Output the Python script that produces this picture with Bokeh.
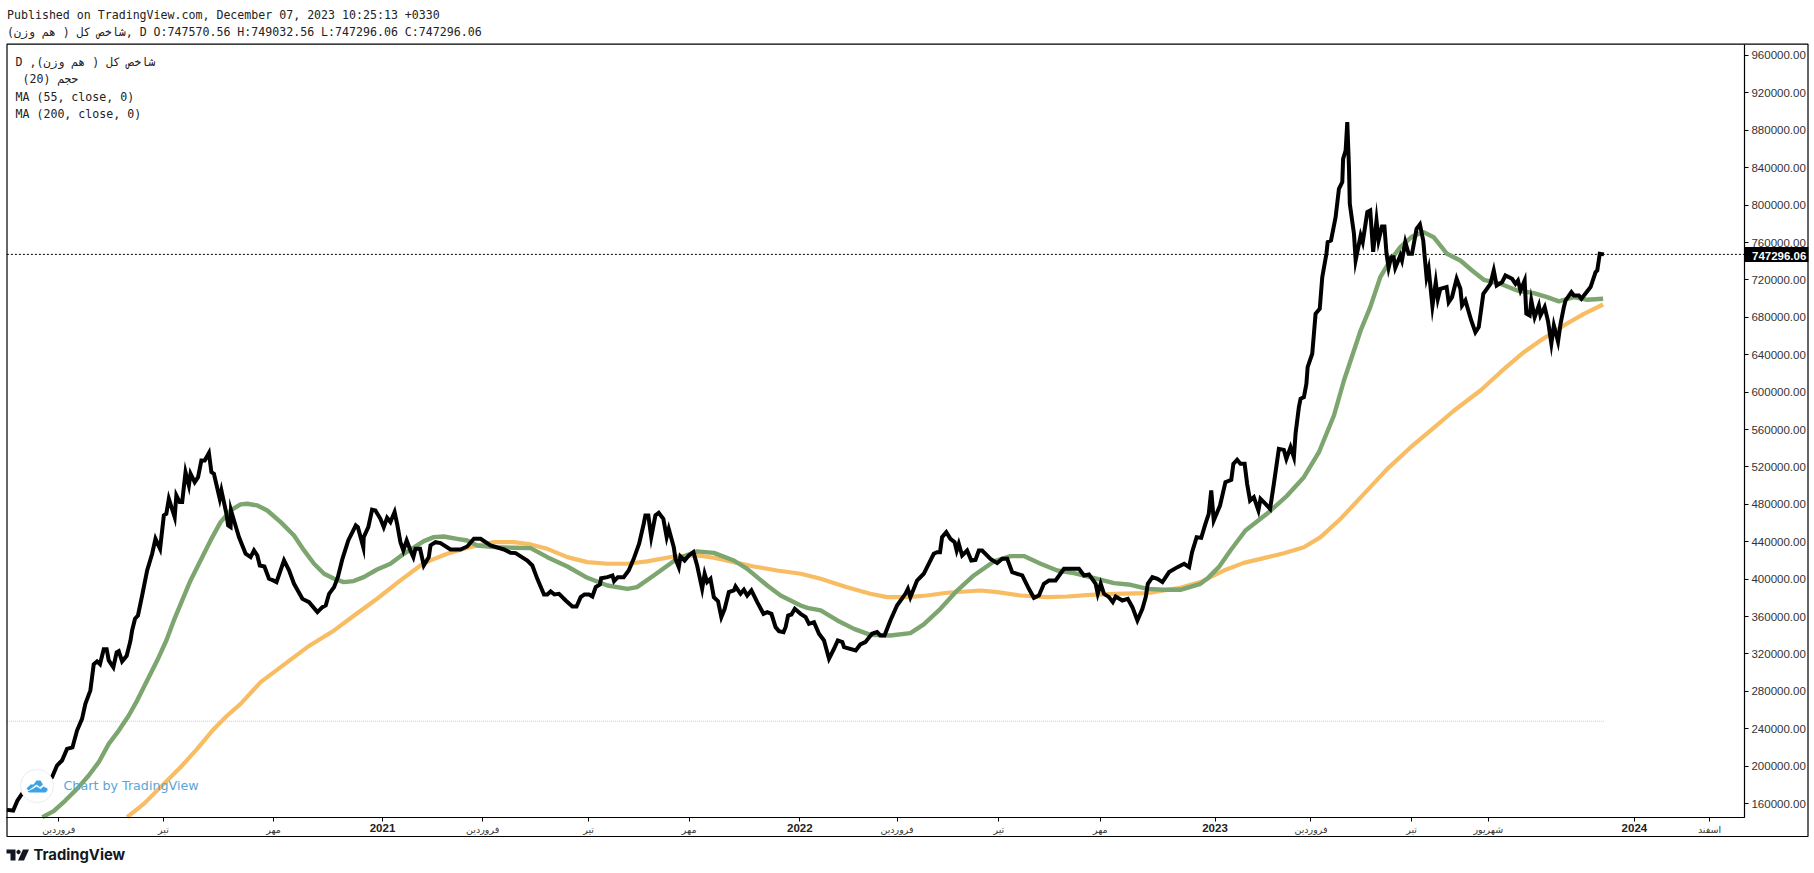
from bokeh.plotting import figure
from bokeh.embed import file_html
from bokeh.resources import INLINE
from bokeh.models import Label, BoxAnnotation, PolyAnnotation, FixedTicker, Range1d, LinearAxis

header_line1 = "Published on TradingView.com, December 07, 2023 10:25:13 +0330"
header_line2 = "شاخص کل ( هم وزن), D O:747570.56 H:749032.56 L:747296.06 C:747296.06"
legend_lines = ["D ,شاخص کل ( هم وزن)", "\u00a0(20) حجم", "MA (55, close, 0)", "MA (200, close, 0)"]
last_close = 747296.06
support_level = 248000

# (year fraction, index value in thousands)
close_points = [
(2020.100,153.2),(2020.115,152.5),(2020.125,163),(2020.137,171),(2020.172,179),(2020.208,188),(2020.220,200.6),(2020.232,206),
(2020.244,218.4),(2020.257,220),(2020.268,238),(2020.280,250.5),(2020.288,266.6),(2020.300,281),(2020.308,309),(2020.316,312),
(2020.323,309),(2020.332,325),(2020.339,325),(2020.344,313),(2020.355,305.8),(2020.363,321.8),(2020.368,323),(2020.376,312),
(2020.387,318),(2020.396,334),(2020.400,345.1),(2020.407,357.6),(2020.414,361.1),(2020.424,382.5),(2020.436,409.3),(2020.448,427.1),
(2020.456,443.1),(2020.467,432.4),(2020.476,468.1),(2020.482,469.9),(2020.488,485.9),(2020.502,466.3),(2020.506,489.5),(2020.514,482.4),
(2020.520,482.4),(2020.528,514.4),(2020.536,500.2),(2020.540,512.7),(2020.550,503.7),(2020.558,509.1),(2020.566,526.9),(2020.574,526.9),
(2020.584,534.8),(2020.590,514.4),(2020.596,512.7),(2020.610,485.9),(2020.614,494.8),(2020.626,469.9),(2020.630,457.4),(2020.636,455.6),
(2020.637,473.4),(2020.656,445),(2020.672,427.1),(2020.684,423.5),(2020.692,430.7),(2020.700,425.3),(2020.706,414.6),(2020.717,413.5),
(2020.728,400.4),(2020.738,398.6),(2020.746,396.8),(2020.764,420),(2020.776,409.3),(2020.788,395),(2020.808,379),(2020.816,377.2),
(2020.824,375.4),(2020.844,364.7),(2020.856,370),(2020.864,371.8),(2020.872,384.3),(2020.884,391.4),(2020.893,402.1),(2020.904,421.7),
(2020.918,441.4),(2020.936,457.4),(2020.941,455.6),(2020.954,434.2),(2020.955,444.9),(2020.966,455.6),(2020.975,474.2),(2020.983,473.4),
(2020.995,464.5),(2021.003,455.6),(2021.011,465.6),(2021.019,461),(2021.029,471.7),(2021.035,459.2),(2021.043,439.5),(2021.050,430.6),
(2021.058,441.3),(2021.067,430.6),(2021.074,423.5),(2021.079,432.4),(2021.090,432.4),(2021.099,414.6),(2021.111,423.5),(2021.115,436),
(2021.127,439.5),(2021.139,438.5),(2021.163,431.7),(2021.187,431.7),(2021.203,434.9),(2021.219,443.1),(2021.235,443.1),(2021.259,436),
(2021.291,431.7),(2021.307,428.1),(2021.319,427.8),(2021.347,419.9),(2021.359,414.6),(2021.371,400.3),(2021.387,383.6),(2021.395,383.6),
(2021.403,386.8),(2021.412,383.6),(2021.423,384.3),(2021.439,377.2),(2021.455,370.7),(2021.465,370.7),(2021.475,380.7),(2021.484,383.6),
(2021.495,383.6),(2021.503,381.4),(2021.511,391.4),(2021.521,394.3),(2021.524,401),(2021.539,402.1),(2021.551,403.9),(2021.555,397.8),
(2021.564,402.1),(2021.578,402.1),(2021.590,409.2),(2021.602,421.7),(2021.615,437.8),(2021.626,459.2),(2021.630,468.1),(2021.637,468.1),
(2021.644,444.9),(2021.654,468.1),(2021.662,470.9),(2021.673,464.5),(2021.681,444.9),(2021.686,453.8),(2021.698,434.2),(2021.702,421.7),
(2021.710,412.8),(2021.714,424.2),(2021.724,419.9),(2021.734,425.3),(2021.745,428.9),(2021.754,414.6),(2021.766,389.6),(2021.772,405.7),
(2021.778,396.8),(2021.786,400.3),(2021.794,380.7),(2021.804,376.4),(2021.812,359.3),(2021.820,368.2),(2021.830,386.1),(2021.842,387.9),
(2021.846,392.1),(2021.858,384.3),(2021.866,388.6),(2021.874,382.5),(2021.884,387.9),(2021.890,382.5),(2021.898,375.4),(2021.913,362.9),
(2021.922,364.7),(2021.932,362.9),(2021.942,348.6),(2021.950,344.4),(2021.961,343.3),(2021.966,348.6),(2021.972,361.1),(2021.980,362.2),
(2021.988,368.2),(2022.002,362.9),(2022.014,359.3),(2022.022,352.2),(2022.034,354),(2022.046,341.5),(2022.058,334.4),(2022.070,314.8),
(2022.082,325.5),(2022.091,334.4),(2022.102,332.6),(2022.106,327.2),(2022.134,323.7),(2022.145,330.1),(2022.157,332.6),(2022.173,341.5),
(2022.185,343.3),(2022.193,339.7),(2022.203,339.7),(2022.217,355.8),(2022.233,371.8),(2022.253,384.3),(2022.259,389.6),(2022.265,380.7),
(2022.281,398.5),(2022.297,405.7),(2022.321,427.1),(2022.329,428.8),(2022.336,428.8),(2022.341,444.9),(2022.351,450.2),(2022.361,443.1),
(2022.371,439.5),(2022.376,430.6),(2022.381,437.8),(2022.389,425.3),(2022.401,430.6),(2022.411,419.9),(2022.421,420.6),(2022.429,430.6),
(2022.437,430.6),(2022.457,421.7),(2022.473,417.1),(2022.485,421.7),(2022.497,421.7),(2022.509,407.5),(2022.521,405.7),(2022.533,403.9),
(2022.549,389.6),(2022.561,380),(2022.573,382.5),(2022.585,395),(2022.597,398.5),(2022.613,398.5),(2022.633,411),(2022.649,411),
(2022.669,411),(2022.681,403.9),(2022.693,405),(2022.709,395),(2022.714,384.3),(2022.721,395),(2022.729,384.3),(2022.741,380.7),
(2022.750,375.4),(2022.757,381.4),(2022.773,377.1),(2022.786,378.9),(2022.797,370),(2022.809,355.8),(2022.821,368.2),(2022.829,380.7),
(2022.834,395),(2022.845,402.1),(2022.857,400.3),(2022.869,396.8),(2022.885,407.5),(2022.905,412.8),(2022.921,416.4),(2022.933,412.8),
(2022.940,428.8),(2022.951,444.8),(2022.962,444.1),(2022.972,459.1),(2022.980,469.8),(2022.986,494.8),(2022.992,462.7),(2023.007,478.7),
(2023.020,503.7),(2023.034,506.2),(2023.039,523.3),(2023.048,527.6),(2023.056,523.3),(2023.066,523.3),(2023.072,501.9),(2023.079,484),
(2023.088,487.6),(2023.099,473.4),(2023.104,485.8),(2023.116,480.5),(2023.127,475.1),(2023.136,501.9),(2023.148,539.3),(2023.160,538.2),
(2023.166,528.6),(2023.176,541.1),(2023.184,530.4),(2023.188,555.4),(2023.196,583.9),(2023.200,592.8),(2023.208,594.6),(2023.214,608.9),
(2023.217,626.7),(2023.228,641),(2023.232,662.3),(2023.236,683.7),(2023.246,689.1),(2023.252,722.9),(2023.262,747.9),(2023.265,760.4),
(2023.273,762.2),(2023.284,787.1),(2023.292,817.4),(2023.300,824.6),(2023.302,849.5),(2023.308,858.4),(2023.312,888.7),(2023.316,840.6),
(2023.318,801.4),(2023.328,769.3),(2023.332,741),(2023.344,767.5),(2023.349,760.4),(2023.360,792.5),(2023.367,794.2),(2023.374,750),
(2023.382,783.6),(2023.387,762.2),(2023.395,777.1),(2023.401,777.1),(2023.406,747.9),(2023.411,733),(2023.417,744.3),(2023.423,744.3),
(2023.427,733),(2023.439,746.1),(2023.443,740.8),(2023.451,760.4),(2023.459,747.9),(2023.467,747.9),(2023.478,774.6),(2023.486,779.3),
(2023.494,762.2),(2023.502,722.9),(2023.507,731.9),(2023.516,692),(2023.524,717.6),(2023.529,699.8),(2023.535,710.5),(2023.550,712.3),
(2023.555,696.2),(2023.563,701.6),(2023.574,721.2),(2023.583,710.5),(2023.587,692.7),(2023.595,698),(2023.609,676.6),(2023.619,664),
(2023.627,669.5),(2023.638,705.1),(2023.655,715.8),(2023.663,730.1),(2023.670,714),(2023.683,717.6),(2023.691,724.7),(2023.707,721.2),
(2023.715,715.8),(2023.721,719.4),(2023.727,708.7),(2023.737,719.4),(2023.741,684),(2023.749,682),(2023.753,698),(2023.761,680),
(2023.771,692.7),(2023.775,682),(2023.785,690.9),(2023.793,676),(2023.801,652),(2023.807,671.3),(2023.817,654),(2023.823,673),
(2023.831,690.9),(2023.835,698),(2023.849,706.9),(2023.855,703.3),(2023.867,703.3),(2023.873,699.8),(2023.895,712.3),(2023.907,728.3),
(2023.911,730.1),(2023.917,747.9),(2023.927,747.3),
]

ma55_points = [
(2020.185,145.4),(2020.212,151.8),(2020.240,163.2),(2020.268,175.7),(2020.296,189.9),(2020.320,204.2),(2020.344,223.8),(2020.368,238),
(2020.392,254.1),(2020.412,270.1),(2020.436,291.5),(2020.460,312.9),(2020.482,334.3),(2020.500,355.8),(2020.520,377.2),(2020.540,398.6),
(2020.564,420),(2020.588,441.4),(2020.612,461),(2020.636,473.4),(2020.660,479.9),(2020.676,480.6),(2020.700,478.8),(2020.724,473.4),
(2020.756,461),(2020.788,446.7),(2020.812,430.7),(2020.836,416.4),(2020.860,405.7),(2020.884,400.4),(2020.907,396.8),(2020.931,397.9),
(2020.955,402.1),(2020.987,410.3),(2021.019,416.4),(2021.051,427.1),(2021.099,440.6),(2021.123,444.9),(2021.147,445.6),(2021.179,443.1),
(2021.203,441.3),(2021.227,436),(2021.267,434.2),(2021.315,433.5),(2021.355,433.1),(2021.395,423.5),(2021.443,413.5),(2021.491,401.4),
(2021.539,393.2),(2021.587,389.6),(2021.610,391.4),(2021.650,403.9),(2021.706,421.7),(2021.754,429.6),(2021.794,428.1),(2021.842,419.9),
(2021.874,411),(2021.922,393.2),(2021.954,382.5),(2022.002,371.8),(2022.018,369.3),(2022.050,366.5),(2022.090,355.8),(2022.130,346.8),
(2022.169,340.4),(2022.217,339.7),(2022.265,342.2),(2022.297,351.5),(2022.337,368.2),(2022.377,387.8),(2022.417,403.9),(2022.465,418.9),
(2022.505,424.6),(2022.537,424.6),(2022.577,416.4),(2022.617,409.2),(2022.657,406.4),(2022.713,400.3),(2022.753,395.7),(2022.793,393.9),
(2022.833,389.6),(2022.872,388.6),(2022.912,388.6),(2022.960,395),(2022.976,400.3),(2023.004,412.8),(2023.032,430.6),(2023.068,452),
(2023.124,471.6),(2023.168,489.4),(2023.208,509),(2023.244,535.7),(2023.280,575),(2023.304,612.4),(2023.328,644.5),(2023.344,665.9),
(2023.367,690.9),(2023.391,722.9),(2023.415,740.8),(2023.439,755),(2023.467,766.4),(2023.495,771.1),(2023.519,765.7),(2023.551,747.9),
(2023.583,740.8),(2023.611,730.1),(2023.639,720.1),(2023.679,715.8),(2023.719,708.7),(2023.759,705.8),(2023.791,701.6),(2023.819,697),
(2023.855,701.6),(2023.887,698.7),(2023.925,699.8),
]

ma200_points = [
(2020.388,145.4),(2020.428,159.6),(2020.476,181),(2020.516,198.8),(2020.556,218.4),(2020.596,239.8),(2020.628,254.1),(2020.660,266.6),
(2020.708,289.8),(2020.772,311.2),(2020.820,327.3),(2020.884,345.1),(2020.932,361.1),(2020.987,379),(2021.043,398.6),(2021.091,414.6),
(2021.115,420),(2021.155,427.1),(2021.195,432.4),(2021.227,436),(2021.267,439.5),(2021.315,439.5),(2021.355,437.1),(2021.395,432.4),
(2021.443,423.5),(2021.491,418.2),(2021.539,416.4),(2021.587,416.4),(2021.634,418.9),(2021.698,424.2),(2021.754,425.3),(2021.794,422.8),
(2021.842,418.2),(2021.890,413.5),(2021.946,409.2),(2022.002,405.7),(2022.050,400.3),(2022.113,391.4),(2022.169,384.3),(2022.209,380.7),
(2022.257,380.7),(2022.305,382.5),(2022.353,385.4),(2022.433,387.8),(2022.473,386.1),(2022.529,382.5),(2022.593,380.7),(2022.641,381.4),
(2022.697,383.2),(2022.753,384.3),(2022.833,385),(2022.872,387.9),(2022.912,390.7),(2022.960,396.8),(2022.976,400.3),(2023.016,409.2),
(2023.064,417.4),(2023.112,422.4),(2023.160,427.7),(2023.208,434.1),(2023.248,444.9),(2023.296,464.5),(2023.352,491.2),(2023.408,517.9),
(2023.464,541.1),(2023.512,559),(2023.568,580.3),(2023.631,601.7),(2023.679,621.3),(2023.735,642.7),(2023.775,655.2),(2023.831,671.3),
(2023.879,683.7),(2023.925,693.7),
]

y_ticks = list(range(160000, 960001, 40000))
month_ticks = {2020.224:"فروردین",2020.475:"تیر",2020.739:"مهر",2021.240:"فروردین",2021.494:"تیر",2021.735:"مهر",
               2022.233:"فروردین",2022.477:"تیر",2022.720:"مهر",2023.225:"فروردین",2023.466:"تیر",2023.650:"شهریور",2024.180:"اسفند"}
year_ticks = [2021, 2022, 2022.995, 2024]
year_labels = ["2021", "2022", "2023", "2024"]

W, H = 1814, 873
PANE_LEFT, PANE_RIGHT = 2020.0999, 2024.2638
PANE_BOTTOM, PANE_TOP = 145040, 972100
def sy(py):
    return H - py

# The frame fills the canvas, so the chart's furniture around the pane can be placed in it.
p = figure(width=W, height=H, output_backend="svg", toolbar_location=None, y_axis_location="right",
           x_range=Range1d(2020.0846, 2024.4316), y_range=Range1d(85149, 1018822),
           min_border_left=0, min_border_top=0, min_border_right=0, min_border_bottom=0)
p.background_fill_color = "white"
p.border_fill_color = "white"
p.grid.visible = False
p.outline_line_color = None

yax = p.yaxis[0]
yax.fixed_location = PANE_RIGHT
yax.bounds = (PANE_BOTTOM, PANE_TOP)
yax.ticker = FixedTicker(ticks=y_ticks)
yax.major_label_overrides = {t: f"{t:.2f}" for t in y_ticks}
yax.major_label_text_font = "Liberation Sans"
yax.major_label_text_font_size = "11.5px"
yax.major_label_text_color = "#333333"
yax.major_tick_in = 0
yax.major_tick_out = 4
yax.minor_tick_line_color = None
yax.major_label_standoff = 3
yax.axis_line_color = "black"
yax.axis_line_width = 1.2

xax = p.xaxis[0]
xax.fixed_location = PANE_BOTTOM
xax.bounds = (PANE_LEFT, PANE_RIGHT)
xax.ticker = FixedTicker(ticks=list(month_ticks))
xax.major_label_overrides = month_ticks
xax.major_label_text_font = "DejaVu Sans"
xax.major_label_text_font_size = "9.5px"
xax.major_label_text_color = "#333333"
xax.major_tick_in = 0
xax.major_tick_out = 4
xax.minor_tick_line_color = None
xax.major_label_standoff = 2
xax.axis_line_color = "black"
xax.axis_line_width = 1.2

yearax = LinearAxis(fixed_location=PANE_BOTTOM, bounds=(PANE_LEFT, PANE_RIGHT), ticker=FixedTicker(ticks=year_ticks),
                    major_label_overrides=dict(zip(year_ticks, year_labels)),
                    major_label_text_font="Liberation Sans", major_label_text_font_style="bold",
                    major_label_text_font_size="11.5px", major_label_text_color="#222222",
                    major_tick_in=0, major_tick_out=4, minor_tick_line_color=None, major_label_standoff=2,
                    axis_line_color="black", axis_line_width=1.2)
p.add_layout(yearax, "below")

def xy(points):
    return [a for a, _ in points], [b * 1000 for _, b in points]

x_first, x_last = close_points[0][0], close_points[-1][0]
p.line([x_first, x_last], [support_level, support_level], line_color="#d9c3c8", line_width=1, line_dash="1 1")
p.line([PANE_LEFT, PANE_RIGHT], [last_close, last_close], line_color="black", line_width=1, line_dash="2 2")
x, y = xy(ma200_points)
p.line(x, y, line_color="#f8bc63", line_width=4.2, line_join="round")
x, y = xy(ma55_points)
p.line(x, y, line_color="#7da56f", line_width=4.4, line_join="round")
x, y = xy(close_points)
p.line(x, y, line_color="black", line_width=4, line_join="miter")

# outer frame
p.add_layout(BoxAnnotation(left=6.5, right=1807.5, top=sy(43.7), bottom=sy(836),
                           left_units="screen", right_units="screen", top_units="screen", bottom_units="screen",
                           fill_alpha=0, line_color="black", line_alpha=1, line_width=1.2))

mono = dict(text_font="DejaVu Sans Mono", text_font_size="11.6px", text_color="#222222",
            x_units="screen", y_units="screen", text_baseline="middle")
for py, txt in ((14.7, header_line1), (31.7, header_line2)):
    p.add_layout(Label(x=6.5, y=sy(py), text=txt, **mono))
for py, txt in zip((61.5, 78.5, 96, 113), legend_lines):
    p.add_layout(Label(x=15, y=sy(py), text=txt, **mono))

# last price tag
p.add_layout(Label(x=1744.5, y=last_close, x_units="screen", y_units="data", text=f"{last_close:.2f}",
                   text_color="white", text_font="Liberation Sans", text_font_style="bold", text_font_size="11.5px",
                   text_baseline="middle", background_fill_color="black", padding=(7, 2, 5, 2)))

# watermark
p.add_layout(BoxAnnotation(left=20, right=53, top=sy(769), bottom=sy(802), border_radius=16,
                           left_units="screen", right_units="screen", top_units="screen", bottom_units="screen",
                           fill_color="white", fill_alpha=1, line_color="#e6edf2", line_alpha=1, line_width=1))
cloud_a_x = [26, 30, 33, 36, 40, 42.5, 39.5, 36, 32, 28]
cloud_a_y = [788, 784, 784, 780, 780, 784, 786.5, 784, 787, 790]
cloud_b_x = [27, 33, 36, 40, 43, 47, 47, 45, 29]
cloud_b_y = [791, 788, 786, 788.5, 786, 788, 790, 792, 792]
for xs, ys in ((cloud_a_x, cloud_a_y), (cloud_b_x, cloud_b_y)):
    p.add_layout(PolyAnnotation(xs=xs, ys=[sy(v) for v in ys], xs_units="screen", ys_units="screen",
                                fill_color="#3ea2e8", fill_alpha=1, line_color=None))
p.add_layout(Label(x=63, y=sy(785), x_units="screen", y_units="screen", text="Chart by TradingView",
                   text_font="DejaVu Sans", text_font_size="12.7px", text_color="#5aa5d6", text_baseline="middle"))

# footer logo
logo_t_x = [6, 15, 15, 10, 10, 6]
logo_t_y = [849, 849, 860, 860, 853, 853]
logo_s_x = [22.5, 28.5, 23.5, 17.5]
logo_s_y = [849, 849, 860, 860]
logo_d_x = [16, 18, 20, 20, 18, 16]
logo_d_y = [850.5, 849, 850.5, 852.5, 854, 852.5]
for xs, ys in ((logo_t_x, logo_t_y), (logo_s_x, logo_s_y), (logo_d_x, logo_d_y)):
    p.add_layout(PolyAnnotation(xs=xs, ys=[sy(v) for v in ys], xs_units="screen", ys_units="screen",
                                fill_color="#131722", fill_alpha=1, line_color=None))
p.add_layout(Label(x=33, y=sy(854), x_units="screen", y_units="screen", text="TradingView",
                   text_font="Inter", text_font_style="bold", text_font_size="14.8px", text_color="#131722",
                   text_baseline="middle"))

open("out.html", "w").write(file_html(p, INLINE))
